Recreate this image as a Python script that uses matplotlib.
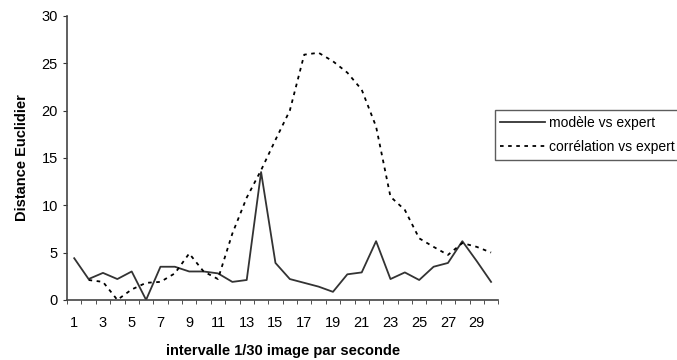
import numpy as np
import matplotlib
matplotlib.use("Agg")
import matplotlib.pyplot as plt
from matplotlib.ticker import FixedLocator

plt.rcParams['font.family'] = ['Liberation Sans Narrow', 'Liberation Sans', 'DejaVu Sans']

# data
intervals = np.arange(1, 31)
modele = [4.4, 2.2, 2.85, 2.2, 3.0, 0.0, 3.5, 3.5, 3.0, 3.0,
          2.8, 1.9, 2.1, 13.5, 3.9, 2.2, 1.8, 1.4, 0.85, 2.7,
          2.9, 6.2, 2.2, 2.9, 2.1, 3.5, 3.9, 6.2, 4.1, 1.9]
correlation = [np.nan, 2.1, 1.9, 0.0, 1.1, 1.8, 1.9, 2.8, 4.9, 3.0,
               2.2, 7.0, 10.8, 13.7, 16.9, 20.0, 25.9, 26.1, 25.2, 24.0,
               22.2, 18.3, 10.9, 9.5, 6.5, 5.6, 4.75, 6.0, 5.6, 5.0]
labels = ['modèle vs expert', 'corrélation vs expert']

fig = plt.figure(figsize=(6.77, 3.6), dpi=100)
ax = fig.add_axes([0.099, 0.167, 0.637, 0.789])

ax.plot(intervals, modele, color='#333333', lw=1.3, label=labels[0])
ax.plot(intervals, correlation, color='black', lw=1.3, ls=(0, (2, 2.5)), label=labels[1])

ax.set_xlim(0.5, 30.5)
ax.set_ylim(0, 30)
ax.set_yticks(range(0, 31, 5))
ax.set_xticks(range(1, 30, 2))
ax.tick_params(axis='x', length=0, pad=11.5, labelsize=10.5)
ax.xaxis.set_minor_locator(FixedLocator(np.arange(0.5, 31, 1)))
ax.tick_params(axis='x', which='minor', length=3, direction='out', color='#333333')
ax.tick_params(axis='y', length=3, direction='out', labelsize=10.5, color='#333333')

for s in ['top', 'right']:
    ax.spines[s].set_visible(False)
for s in ['left', 'bottom']:
    ax.spines[s].set_color('#444444')
    ax.spines[s].set_linewidth(1.2)

ax.set_ylabel('Distance Euclidier', fontweight='bold', fontsize=10.5, labelpad=9)
ax.set_xlabel('intervalle 1/30 image par seconde', fontweight='bold', fontsize=10.5, labelpad=10)

leg = fig.legend(loc='lower left', bbox_to_anchor=(0.731, 0.556), fontsize=10,
                 frameon=True, fancybox=False, handlelength=3.2, handletextpad=0.3,
                 borderpad=0.4, labelspacing=0.75, borderaxespad=0)
leg.get_frame().set_edgecolor('#333333')
leg.get_frame().set_linewidth(1.0)

fig.savefig('out.png', dpi=100)
